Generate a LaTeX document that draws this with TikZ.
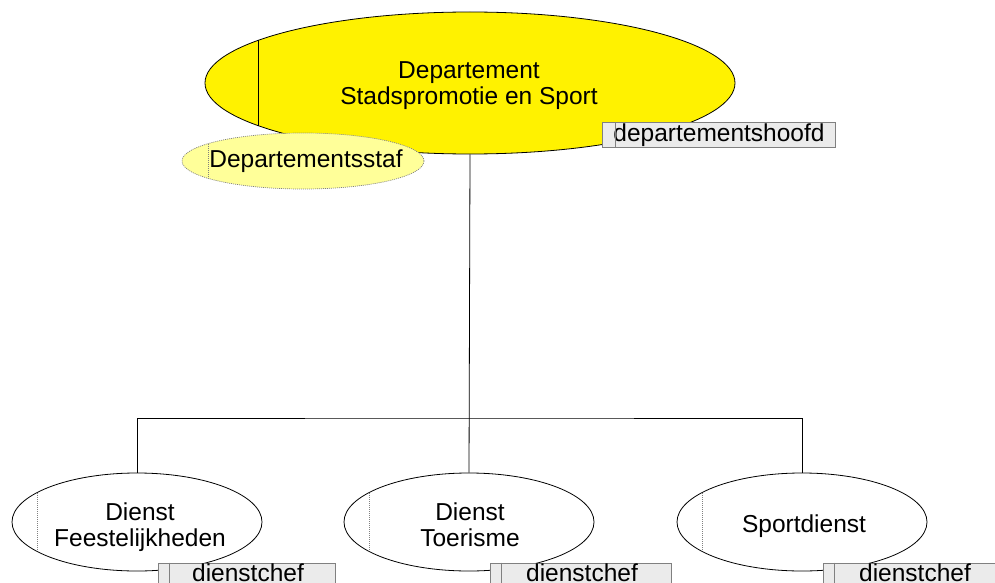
\documentclass[tikz,border=0pt]{standalone}
\usepackage{fontspec}
\setmainfont{Liberation Sans}
\usetikzlibrary{shapes.geometric}
\definecolor{stafyellow}{HTML}{FFFF99}
\definecolor{boxgray}{HTML}{EBEBEB}
\definecolor{boxedge}{HTML}{808080}
\begin{document}
\begin{tikzpicture}[x=1pt,y=-1pt,
  lab/.style={font=\fontsize{24.5}{26}\selectfont, align=center, inner sep=0},
  unit/.style={ellipse, draw=black, line width=0.8pt, inner sep=0},
  tagbox/.style={rectangle, draw=boxedge, fill=boxgray, line width=0.8pt, inner sep=0,
    font=\fontsize{24.5}{26}\selectfont},
  wire/.style={line width=0.8pt, draw=black},
  dotline/.style={line width=0.6pt, draw=boxedge, dash pattern=on 1pt off 1pt}]
\useasboundingbox (0,0) rectangle (995,583);
\clip (0,0) rectangle (995,583);

% main department
\node[unit, fill=yellow, minimum width=530, minimum height=142] (dep) at (470,83) {};
\draw[wire] (258,40) -- (258,126);
\node[lab] (deptxt) at (469,86) {Departement\\Stadspromotie en Sport};

% staff
\node[ellipse, draw=boxedge, dash pattern=on 1pt off 1pt, line width=0.7pt, fill=stafyellow,
  minimum width=242, minimum height=56, inner sep=0] (staf) at (303,161) {};
\draw[dotline] (208,144) -- (208,178);
\node[lab] (staftxt) at (306,161) {Departementsstaf};

% head box
\node[tagbox, minimum width=233, minimum height=25] (hoofd) at (719,135) {departementshoofd};
\draw[wire, draw=boxedge] ([xshift=13pt]hoofd.north west) -- ([xshift=13pt]hoofd.south west);

% children
\node[unit, fill=white, minimum width=250, minimum height=98] (c1) at (137,522) {};
\node[unit, fill=white, minimum width=250, minimum height=98] (c2) at (469,522) {};
\node[unit, fill=white, minimum width=250, minimum height=98] (c3) at (802,522) {};
\draw[dotline] (37,493) -- (37,551);
\draw[dotline] (369,493) -- (369,551);
\draw[dotline] (702,493) -- (702,551);
\node[lab] (c1txt) at (140,527) {Dienst\\Feestelijkheden};
\node[lab] (c2txt) at (470,525) {Dienst\\Toerisme};
\node[lab] (c3txt) at (804,526) {Sportdienst};

% chef boxes
\node[tagbox, minimum width=177, minimum height=37] (b1) at (246.5,581.5) {};
\node[tagbox, minimum width=181, minimum height=37] (b2) at (580.5,581.5) {};
\node[tagbox, minimum width=181, minimum height=37] (b3) at (913.5,581.5) {};
\foreach \b in {b1,b2,b3}{
  \draw[wire, draw=boxedge] ([xshift=12pt]\b.north west) -- ([xshift=12pt]\b.south west);
}
\node[lab, anchor=base] (b1txt) at (248,581) {dienstchef};
\node[lab, anchor=base] (b2txt) at (582,581) {dienstchef};
\node[lab, anchor=base] (b3txt) at (915,581) {dienstchef};

% connectors
\coordinate (bus) at (469,418);
\draw[wire] (dep.south) -- (c2.north);
\draw[wire] (c1.north) |- (bus) -| (c3.north);
\end{tikzpicture}
\end{document}
